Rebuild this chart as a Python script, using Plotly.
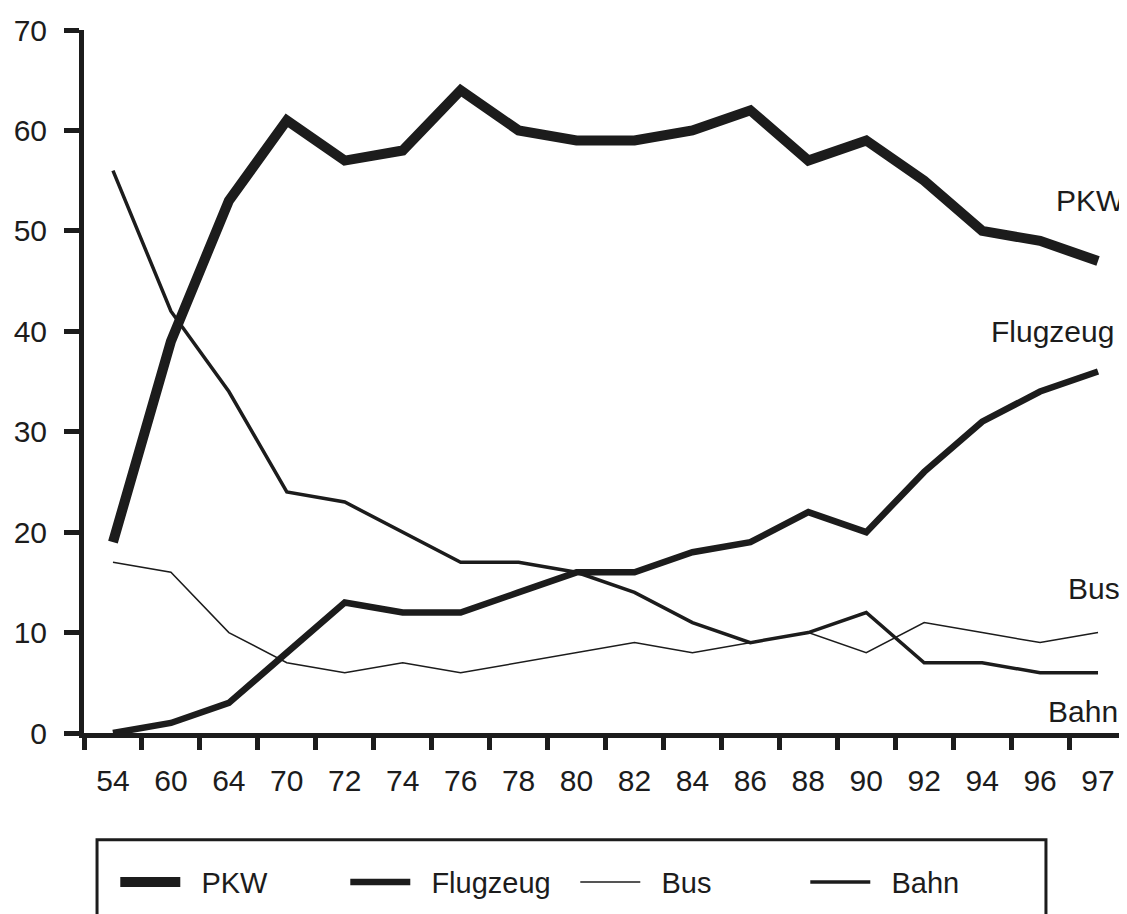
import plotly.graph_objects as go

# Jahre (Kategorien auf der x-Achse)
years = ["54", "60", "64", "70", "72", "74", "76", "78", "80",
         "82", "84", "86", "88", "90", "92", "94", "96", "97"]

# Anteile in Prozent
pkw = [19, 39, 53, 61, 57, 58, 64, 60, 59, 59, 60, 62, 57, 59, 55, 50, 49, 47]
flugzeug = [0, 1, 3, 8, 13, 12, 12, 14, 16, 16, 18, 19, 22, 20, 26, 31, 34, 36]
bus = [17, 16, 10, 7, 6, 7, 6, 7, 8, 9, 8, 9, 10, 8, 11, 10, 9, 10]
bahn = [56, 42, 34, 24, 23, 20, 17, 17, 16, 14, 11, 9, 10, 12, 7, 7, 6, 6]

series = [
    ("PKW", pkw, 10),
    ("Flugzeug", flugzeug, 6.5),
    ("Bus", bus, 1.5),
    ("Bahn", bahn, 3.5),
]

# Beschriftungen am rechten Rand: (Text, y-Wert, x in paper)
end_labels = [
    ("PKW", 53, 1.0),
    ("Flugzeug", 40, 0.989),
    ("Bus", 14.4, 0.995),
    ("Bahn", 2.1, 0.993),
]

INK = "#1c1c1c"
FONT = "Liberation Sans, Arial, sans-serif"
GAP = "\u00a0\u00a0"  # Abstand zwischen Legendenlinie und Text

fig = go.Figure()
for name, vals, w in series:
    fig.add_trace(go.Scatter(
        x=years, y=vals, name=GAP + name, mode="lines",
        line=dict(color=INK, width=w),
    ))

for text, yv, xp in end_labels:
    fig.add_annotation(
        x=xp, xref="paper", y=yv, yref="y", text=text,
        showarrow=False, xanchor="right", yanchor="middle",
        font=dict(size=30, color=INK, family=FONT),
    )

# Rahmen der Legende (unten abgeschnitten wie im Original)
fig.add_shape(
    type="rect", xref="paper", yref="paper",
    x0=0.0125, x1=0.9223, y0=-0.152, y1=-0.32,
    line=dict(color=INK, width=3), fillcolor="rgba(0,0,0,0)",
)

# die Seite hat 8px Rand, daher etwas kleiner
fig.update_layout(
    width=1119, height=906,
    margin=dict(l=76, r=0, t=22, b=181, autoexpand=False),
    paper_bgcolor="white", plot_bgcolor="white",
    font=dict(family=FONT, size=30, color=INK),
    showlegend=True,
    legend=dict(
        orientation="h", x=0.03, xanchor="left",
        y=-0.212, yanchor="middle",
        itemwidth=60, entrywidth=155,
        bgcolor="rgba(0,0,0,0)", borderwidth=0,
        font=dict(size=29, color=INK, family=FONT),
    ),
    xaxis=dict(
        type="category", tickson="boundaries", range=[-0.5, 17.5],
        ticks="outside", ticklen=12, tickwidth=5, tickcolor=INK,
        showline=True, linewidth=5, linecolor=INK,
        showgrid=False, zeroline=False, automargin=False,
        ticklabelstandoff=17,
        tickfont=dict(size=30, family=FONT, color=INK),
    ),
    yaxis=dict(
        range=[0, 70], dtick=10,
        ticks="outside", ticklen=15, tickwidth=5, tickcolor=INK,
        showline=True, linewidth=5, linecolor=INK,
        showgrid=False, zeroline=False, automargin=False,
        ticklabelstandoff=11,
        tickfont=dict(size=30, family=FONT, color=INK),
    ),
)

fig.write_html("out.html")
